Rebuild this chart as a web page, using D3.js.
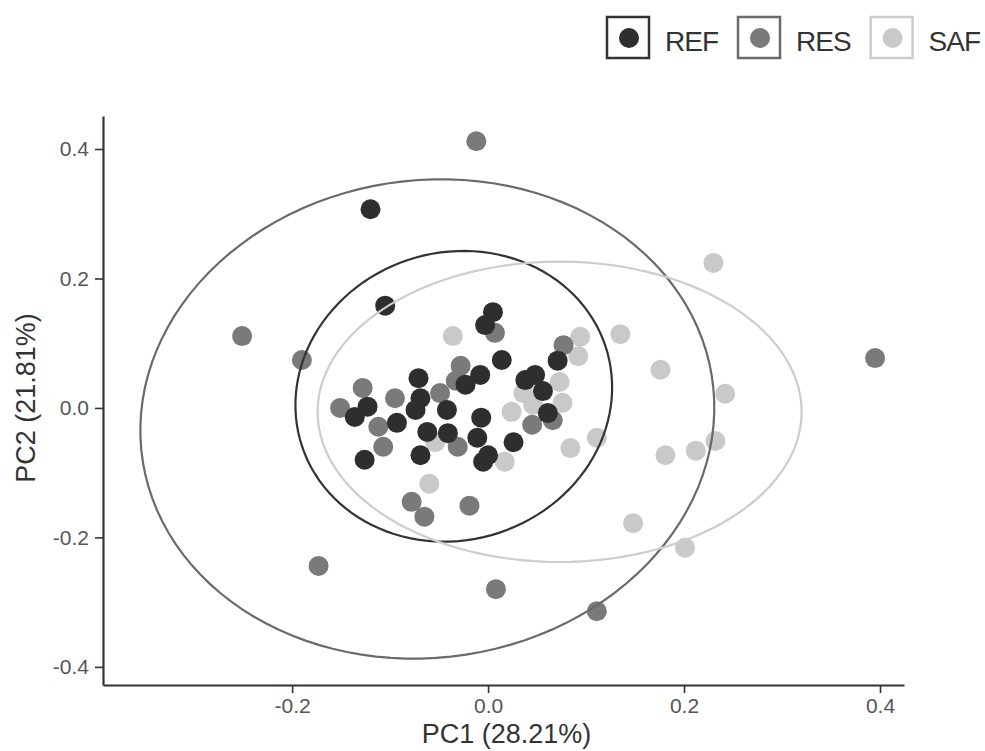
<!DOCTYPE html>
<html>
<head>
<meta charset="utf-8">
<script src="https://cdn.jsdelivr.net/npm/d3@7"></script>
<style>
body{margin:0;background:#fff}
svg{display:block}
</style>
</head>
<body>
<svg id="pca-svg" width="985" height="751"></svg>
<script>
var groups=['REF','RES','SAF']

// PC scores
var refPC1=[-0.120,-0.105,0.005,-0.003,0.071,0.014,-0.071,-0.008,-0.023,0.038,0.048,0.056,-0.123,-0.136,
            -0.069,-0.074,-0.042,0.061,-0.007,-0.093,-0.062,-0.041,-0.011,0.026,-0.126,-0.069,0.000,-0.005]
var refPC2=[0.307,0.158,0.148,0.128,0.073,0.074,0.046,0.051,0.036,0.043,0.051,0.026,0.002,-0.014,
            0.015,-0.003,-0.003,-0.008,-0.015,-0.023,-0.037,-0.039,-0.046,-0.053,-0.080,-0.073,-0.073,-0.083]
var resPC1=[-0.012,-0.251,-0.190,0.395,-0.173,0.008,0.111,-0.078,-0.065,-0.019,0.007,0.077,
            -0.028,-0.033,-0.128,-0.151,-0.095,-0.049,0.066,0.045,-0.112,-0.107,-0.031]
var resPC2=[0.412,0.111,0.074,0.077,-0.244,-0.280,-0.314,-0.145,-0.168,-0.151,0.116,0.097,
            0.065,0.042,0.031,0.000,0.015,0.023,-0.019,-0.026,-0.029,-0.060,-0.060]
var safPC1=[0.230,0.135,0.094,0.092,0.176,0.242,-0.036,0.073,0.036,0.024,0.046,0.076,
            0.084,0.111,0.017,-0.054,-0.060,0.148,0.181,0.212,0.232,0.201]
var safPC2=[0.224,0.114,0.110,0.080,0.059,0.022,0.111,0.040,0.023,-0.006,0.005,0.008,
            -0.062,-0.046,-0.083,-0.053,-0.117,-0.178,-0.073,-0.066,-0.051,-0.216]

// confidence ellipses per group (centre, semi axes, rotation) in PC units
var ellCx=[-0.035,-0.062,0.073]
var ellCy=[0.018,-0.017,-0.006]
var ellA=[0.161,0.292,0.247]
var ellB=[0.225,0.371,0.232]
var ellRot=[-0.09,-0.1,0]

var xTicks=[-0.2,0,0.2,0.4]
var yTicks=[-0.4,-0.2,0,0.2,0.4]
var xTitle='PC1 (28.21%)', yTitle='PC2 (21.81%)'

var colors={REF:'#2e2e2e',RES:'#7a7a7a',SAF:'#c9c9c9'}
var lineColors={REF:'#333333',RES:'#6a6a6a',SAF:'#cdcdcd'}
var font="'Liberation Sans', Arial, sans-serif"

var svg=d3.select('#pca-svg')
var conf={width:985,height:751}
var margin={top:116,bottom:66,left:103,right:81}

var x=d3.scaleLinear()
        .domain([-0.393,0.4245])
        .range([margin.left,conf.width-margin.right]),
    y=d3.scaleLinear()
        .domain([-0.428,0.451])
        .range([conf.height-margin.bottom,margin.top])

var fmt=d3.formatLocale({decimal:'.',thousands:',',grouping:[3],currency:['',''],minus:'-'}).format('.1f')

var points=[]
var cols=[[safPC1,safPC2,'SAF'],[resPC1,resPC2,'RES'],[refPC1,refPC2,'REF']]
for(let c=0;c<cols.length;c++)
    for(let i=0;i<cols[c][0].length;i++)
        points.push({pc1:cols[c][0][i],pc2:cols[c][1][i],group:cols[c][2]})

svg.append('g')
    .attr('id','points')
    .selectAll('circle')
    .data(points)
    .join('circle')
    .attr('cx',d=>x(d.pc1))
    .attr('cy',d=>y(d.pc2))
    .attr('r',10)
    .attr('fill',d=>colors[d.group])

function ellipsePts(i)
{
    var pts=[]
    for(let k=0;k<120;k++)
    {
        var t=k/120*Math.PI*2
        var ca=Math.cos(ellRot[i]), sa=Math.sin(ellRot[i])
        var ex=ellA[i]*Math.cos(t), ey=ellB[i]*Math.sin(t)
        pts.push([x(ellCx[i]+ex*ca-ey*sa),y(ellCy[i]+ex*sa+ey*ca)])
    }
    return pts
}
var line=d3.line().curve(d3.curveLinearClosed)
svg.append('g')
    .attr('id','ellipses')
    .selectAll('path')
    .data(groups)
    .join('path')
    .attr('d',(d,i)=>line(ellipsePts(i)))
    .attr('fill','none')
    .attr('stroke',d=>lineColors[d])
    .attr('stroke-width',2.2)

// axes
var gx=svg.append('g')
    .attr('transform',`translate(0,${conf.height-margin.bottom})`)
    .call(d3.axisBottom(x).tickValues(xTicks).tickFormat(fmt).tickSize(8).tickSizeOuter(0).tickPadding(5))
var gy=svg.append('g')
    .attr('transform',`translate(${margin.left},0)`)
    .call(d3.axisLeft(y).tickValues(yTicks).tickFormat(fmt).tickSize(8).tickSizeOuter(0).tickPadding(6))
;[gx,gy].forEach(g=>{
    g.select('.domain').attr('stroke','#333').attr('stroke-width',2.2)
    g.selectAll('.tick line').attr('stroke','#333').attr('stroke-width',1.6)
    g.selectAll('.tick text')
        .attr('font-family',font)
        .attr('font-size',21)
        .attr('fill','#555')
})

svg.append('text')
    .attr('x',(margin.left+conf.width-margin.right)/2+3)
    .attr('y',743)
    .attr('text-anchor','middle')
    .attr('font-family',font)
    .attr('font-size',27)
    .attr('fill','#333')
    .text(xTitle)
svg.append('text')
    .attr('transform','translate(35,398) rotate(-90)')
    .attr('text-anchor','middle')
    .attr('font-family',font)
    .attr('font-size',27)
    .attr('fill','#333')
    .text(yTitle)

// legend
var lx=607
var legend=svg.append('g').attr('id','legend')
for(let i=0;i<groups.length;i++)
{
    var g=legend.append('g')
    g.append('rect')
        .attr('x',lx).attr('y',17)
        .attr('width',42).attr('height',41)
        .attr('fill','#fff')
        .attr('stroke',lineColors[groups[i]])
        .attr('stroke-width',2.5)
    g.append('circle')
        .attr('cx',lx+22).attr('cy',38)
        .attr('r',10)
        .attr('fill',colors[groups[i]])
    var t=g.append('text')
        .attr('x',lx+58).attr('y',51)
        .attr('font-family',font)
        .attr('font-size',28)
        .attr('letter-spacing',-1)
        .attr('fill','#333')
        .text(groups[i])
    lx=lx+58+t.node().getComputedTextLength()+20
}
</script>
</body>
</html>
